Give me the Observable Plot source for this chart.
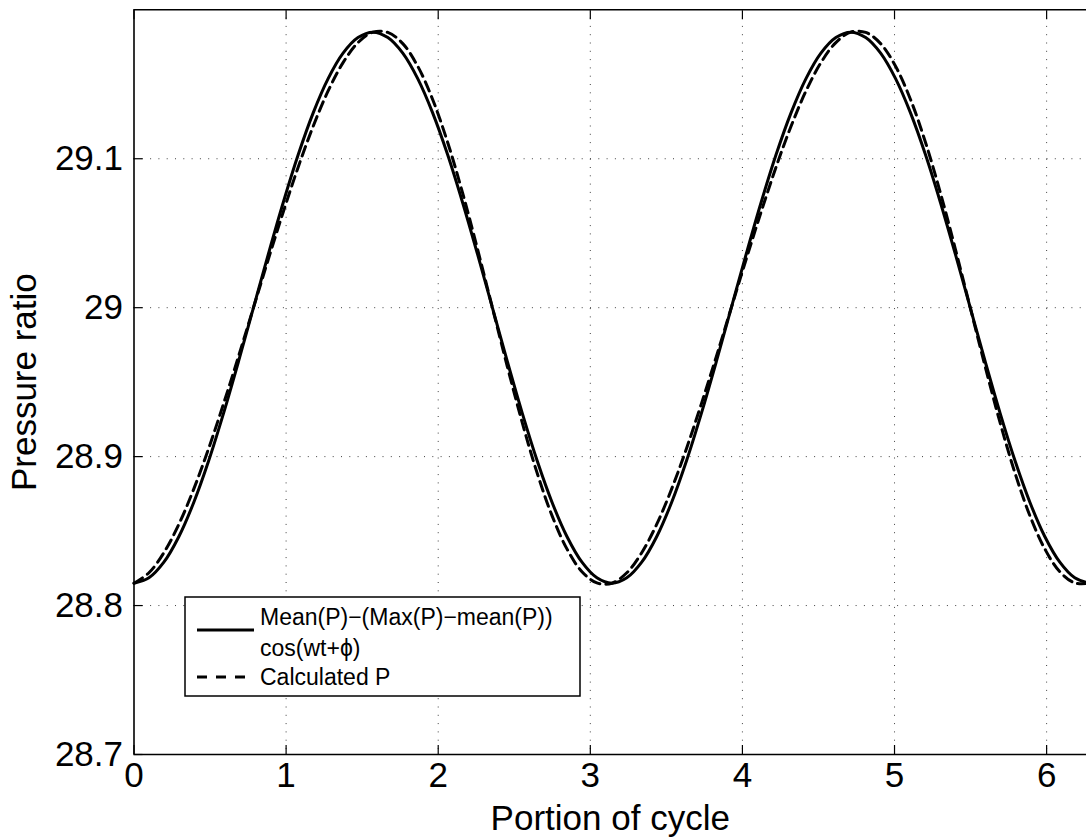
<!DOCTYPE html>
<html>
<head>
<meta charset="utf-8">
<script src="https://cdn.jsdelivr.net/npm/d3@7"></script>
<script src="https://cdn.jsdelivr.net/npm/@observablehq/plot@0.6"></script>
<style>
  html, body { margin: 0; padding: 0; background: #fff; overflow: hidden; }
  #wrap { position: relative; width: 1086px; height: 840px; overflow: hidden; font-family: "Liberation Sans", Arial, Helvetica, sans-serif; }
  #legend { position: absolute; left: 0; top: 0; pointer-events: none; }
</style>
</head>
<body>
<div id="wrap"></div>
<script>
// x positions (portion of cycle, radians)
const xVals = [0, 0.0982, 0.1963, 0.2945, 0.3927, 0.4909, 0.5890, 0.6872, 0.7854, 0.8836, 0.9817, 1.0799, 1.1781, 1.2763, 1.3744, 1.4726, 1.5708, 1.6690, 1.7671, 1.8653, 1.9635, 2.0617, 2.1598, 2.2580, 2.3562, 2.4544, 2.5525, 2.6507, 2.7489, 2.8471, 2.9452, 3.0434, 3.1416, 3.2398, 3.3379, 3.4361, 3.5343, 3.6325, 3.7306, 3.8288, 3.9270, 4.0252, 4.1233, 4.2215, 4.3197, 4.4179, 4.5160, 4.6142, 4.7124, 4.8106, 4.9087, 5.0069, 5.1051, 5.2033, 5.3014, 5.3996, 5.4978, 5.5960, 5.6941, 5.7923, 5.8905, 5.9887, 6.0868, 6.1850, 6.2832];

// Mean(P)-(Max(P)-mean(P)) cos(wt+phi)
const ySolid = [28.815, 28.8186, 28.8291, 28.8462, 28.8692, 28.8972, 28.9292, 28.9639, 29.0, 29.0361, 29.0708, 29.1028, 29.1308, 29.1538, 29.1709, 29.1814, 29.185, 29.1814, 29.1709, 29.1538, 29.1308, 29.1028, 29.0708, 29.0361, 29.0, 28.9639, 28.9292, 28.8972, 28.8692, 28.8462, 28.8291, 28.8186, 28.815,
  28.8186, 28.8291, 28.8462, 28.8692, 28.8972, 28.9292, 28.9639, 29.0, 29.0361, 29.0708, 29.1028, 29.1308, 29.1538, 29.1709, 29.1814, 29.185, 29.1814, 29.1709, 29.1538, 29.1308, 29.1028, 29.0708, 29.0361, 29.0, 28.9639, 28.9292, 28.8972, 28.8692, 28.8462, 28.8291, 28.8186, 28.815];

// Calculated P
const yDashed = [28.815, 28.8220, 28.8355, 28.8545, 28.8782, 28.9055, 28.9356, 28.9673, 29.0, 29.0327, 29.0644, 29.0945, 29.1218, 29.1455, 29.1645, 29.1780, 29.185, 29.1848, 29.1773, 29.1621, 29.1398, 29.1111, 29.0772, 29.0395, 29.0, 28.9605, 28.9228, 28.8889, 28.8602, 28.8379, 28.8227, 28.8152, 28.815,
  28.8220, 28.8355, 28.8545, 28.8782, 28.9055, 28.9356, 28.9673, 29.0, 29.0327, 29.0644, 29.0945, 29.1218, 29.1455, 29.1645, 29.1780, 29.185, 29.1848, 29.1773, 29.1621, 29.1398, 29.1111, 29.0772, 29.0395, 29.0, 28.9605, 28.9228, 28.8889, 28.8602, 28.8379, 28.8227, 28.8152, 28.815];

const xTicks = [0, 1, 2, 3, 4, 5, 6];
const yTicks = [28.7, 28.8, 28.9, 29.0, 29.1];
const yTickLabels = ["28.7", "28.8", "28.9", "29", "29.1"];
const xDomain = [0, 6.2832];
const yDomain = [28.7, 29.2];
const xLabel = "Portion of cycle";
const yLabel = "Pressure ratio";
const legendLabels = ["Mean(P)\u2212(Max(P)\u2212mean(P))", "cos(wt+\u03d5)", "Calculated P"];

const solid = xVals.map((x, i) => ({x, y: ySolid[i]}));
const dashed = xVals.map((x, i) => ({x, y: yDashed[i]}));
const yFmt = new Map(yTicks.map((t, i) => [t, yTickLabels[i]]));

const W = 1086, H = 840;
const mLeft = 133.5, mTop = 9.3, mBottom = 86;
const FONT = "'Liberation Sans', Arial, Helvetica, sans-serif";

const chart = Plot.plot({
  width: W,
  height: H,
  marginLeft: mLeft,
  marginTop: mTop,
  marginBottom: mBottom,
  marginRight: 0,
  style: { fontFamily: FONT, background: "#fff", overflow: "hidden" },
  x: { domain: xDomain, range: [mLeft, 1089.2] },
  y: { domain: yDomain },
  marks: [
    Plot.gridX(xTicks.slice(1), { stroke: "#000", strokeOpacity: 0.75, strokeWidth: 1, strokeDasharray: "1,7.3" }),
    Plot.gridY(yTicks.slice(1), { stroke: "#000", strokeOpacity: 0.75, strokeWidth: 1, strokeDasharray: "1,7.3" }),
    Plot.line(solid, { x: "x", y: "y", stroke: "#000", strokeWidth: 3, curve: "catmull-rom" }),
    Plot.line(dashed, { x: "x", y: "y", stroke: "#000", strokeWidth: 3, strokeDasharray: "10,6", curve: "catmull-rom" }),
    // box
    Plot.ruleX([xDomain[0], xDomain[1]], { stroke: "#000", strokeWidth: 1.6 }),
    Plot.ruleY([yDomain[0], yDomain[1]], { stroke: "#000", strokeWidth: 1.6 }),
    // inward ticks
    Plot.axisX(xTicks, { anchor: "bottom", tickSize: -9, text: null, label: null, strokeWidth: 1.2 }),
    Plot.axisX(xTicks, { anchor: "top", tickSize: -9, text: null, label: null, strokeWidth: 1.2 }),
    Plot.axisY(yTicks, { anchor: "left", tickSize: -9, text: null, label: null, strokeWidth: 1.2 }),
    // tick labels
    Plot.axisX(xTicks, { anchor: "bottom", tickSize: 0, tickPadding: 8, fontSize: 35, label: null, tickFormat: d => String(d) }),
    Plot.axisY(yTicks, { anchor: "left", tickSize: 0, tickPadding: 11, fontSize: 35, label: null, tickFormat: d => yFmt.get(d) }),
    // axis titles
    Plot.text([xLabel], { frameAnchor: "bottom", textAnchor: "middle", lineAnchor: "middle", dy: 64, fontSize: 35, fill: "#000" }),
    Plot.text([yLabel], { frameAnchor: "left", textAnchor: "middle", lineAnchor: "middle", dx: -109, rotate: -90, fontSize: 35, fill: "#000" })
  ]
});

const wrap = document.getElementById("wrap");
wrap.appendChild(chart);

// legend (box inside the axes, lower left)
const ns = "http://www.w3.org/2000/svg";
const lg = d3.select(wrap).append("svg")
  .attr("id", "legend").attr("width", W).attr("height", H)
  .style("font-family", FONT);
lg.append("rect").attr("x", 185).attr("y", 597).attr("width", 395).attr("height", 99)
  .attr("fill", "#fff").attr("stroke", "#000").attr("stroke-width", 1.5);
lg.append("line").attr("x1", 197).attr("x2", 254).attr("y1", 630).attr("y2", 630)
  .attr("stroke", "#000").attr("stroke-width", 3);
lg.append("line").attr("x1", 197).attr("x2", 254).attr("y1", 677).attr("y2", 677)
  .attr("stroke", "#000").attr("stroke-width", 3).attr("stroke-dasharray", "10,9");
const baselines = [625, 656, 685];
legendLabels.forEach((t, i) => {
  lg.append("text").attr("x", 260).attr("y", baselines[i])
    .attr("font-size", 23).attr("fill", "#000").text(t);
});
</script>
</body>
</html>
